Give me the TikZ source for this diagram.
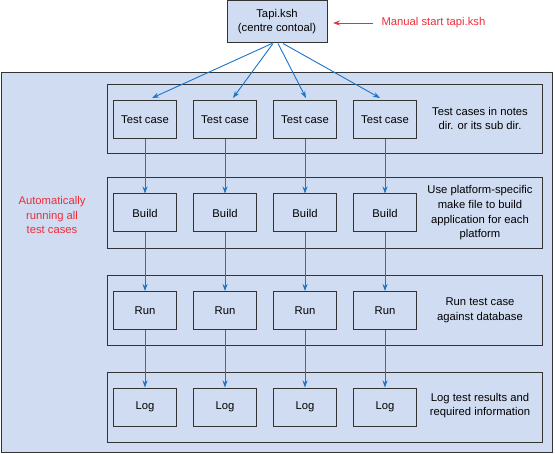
\documentclass[tikz,border=0pt]{standalone}
\usepackage{fontspec}
\setmainfont{Liberation Sans}
\usetikzlibrary{arrows.meta,calc}
\definecolor{panelfill}{HTML}{D0DCF2}
\definecolor{linegray}{HTML}{333333}
\definecolor{flowblue}{HTML}{1A74C8}
\definecolor{notered}{HTML}{EE2D3A}
\begin{document}
\begin{tikzpicture}[x=1bp,y=-1bp,
  panel/.style={draw=linegray,line width=1bp,fill=panelfill,inner sep=0pt,anchor=north west},
  stepbox/.style={draw=linegray,line width=1bp,fill=panelfill,minimum width=63bp,minimum height=38bp,inner sep=0pt,font=\fontsize{11.3}{13}\selectfont},
  note/.style={align=center,font=\fontsize{11.3}{14.7}\selectfont,text=black},
  rednote/.style={align=center,font=\fontsize{11.3}{14.5}\selectfont,text=notered},
  flow/.style={draw=flowblue,line width=0.9bp,-{Stealth[length=7bp,width=5bp]}}
]
\useasboundingbox (0,0) rectangle (555,454);
% outer panel
\node[panel,minimum width=551bp,minimum height=380bp] (outer) at (1,72) {};
% row panels
\node[panel,minimum width=435bp,minimum height=69bp] (rowA) at (107,84) {};
\node[panel,minimum width=435bp,minimum height=71bp] (rowB) at (107,177) {};
\node[panel,minimum width=435bp,minimum height=70bp] (rowC) at (107,275) {};
\node[panel,minimum width=435bp,minimum height=70bp] (rowD) at (107,372) {};
% top box
\node[stepbox,minimum width=100bp,minimum height=42bp,align=center,font=\fontsize{11.3}{14}\selectfont] (top) at (277,22) {Tapi.ksh\\(centre contoal)};
% manual start
\node[rednote,anchor=west] (manual) at (378,23) {Manual start tapi.ksh};
\coordinate (mstart) at (373,23);
\coordinate (mend) at (333,23);
\draw[draw=notered,line width=0.9bp,-{Stealth[length=7bp,width=5bp]}] (mstart) -- (mend);
% boxes
\foreach \c/\x in {1/145,2/225,3/305,4/385}{
  \node[stepbox] (tc\c) at (\x,119.5) {Test case};
  \node[stepbox] (bd\c) at (\x,213) {Build};
  \node[stepbox] (rn\c) at (\x,310.5) {Run};
  \node[stepbox] (lg\c) at (\x,407) {Log};
  \draw[flow] (tc\c.south) -- (bd\c.north);
  \draw[flow] (bd\c.south) -- (rn\c.north);
  \draw[flow] (rn\c.south) -- (lg\c.north);
}
% fan-out arrows
\coordinate (e1) at (152,98);
\coordinate (e2) at (233,98);
\coordinate (e3) at (306,98);
\coordinate (e4) at (380,98);
\draw[flow] ($(top.south)+(-5,0)$) -- (e1);
\draw[flow] ($(top.south)+(-4,0)$) -- (e2);
\draw[flow] ($(top.south)+(1,0)$) -- (e3);
\draw[flow] ($(top.south)+(6,0)$) -- (e4);
% notes
\node[note] (nA) at (480,118.5) {Test cases in notes\\dir. or its sub dir.};
\node[note] (nB) at (480,213) {Use platform-specific\\make file to build\\application for each\\platform};
\node[note] (nC) at (480,310) {Run test case\\against database};
\node[note] (nD) at (480,405.5) {Log test results and\\required information};
\node[rednote] (auto) at (52,215) {Automatically\\running all\\test cases};
\end{tikzpicture}
\end{document}
